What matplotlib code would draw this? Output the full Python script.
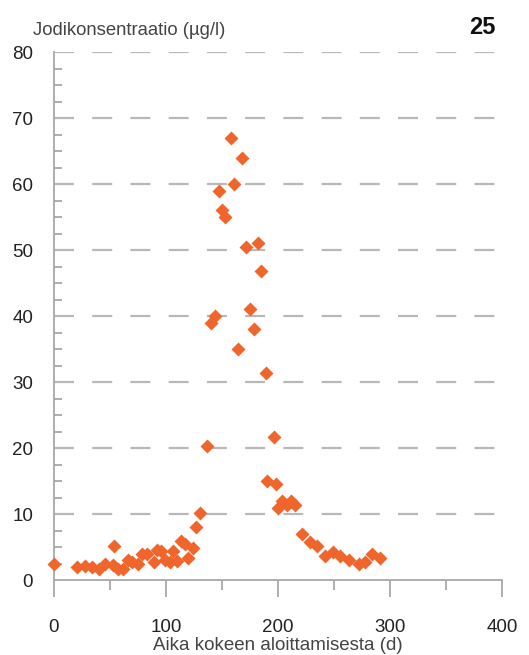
import matplotlib.pyplot as plt
from matplotlib.ticker import MultipleLocator

plt.rcParams['font.family'] = ['Liberation Sans', 'DejaVu Sans']

# days since start and measured iodine concentration
days = [0, 21, 28, 34, 40, 46, 53, 54, 57, 62, 66, 70, 75, 79, 83, 89, 92, 96,
        99, 104, 106, 110, 113, 117, 120, 124, 127, 130, 137, 140, 144, 147, 150,
        153, 158, 161, 164, 168, 171, 175, 179, 182, 185, 189, 190, 196, 198, 200,
        204, 208, 212, 215, 221, 229, 235, 242, 249, 255, 263, 272, 278, 284, 291]
conc = [2.4, 1.9, 2.1, 1.9, 1.6, 2.4, 2.2, 5.1, 1.7, 1.6, 3.1, 2.7, 2.4, 4.0,
        3.9, 2.8, 4.6, 4.4, 3.1, 2.7, 4.4, 2.9, 5.9, 5.5, 3.3, 4.8, 8.0, 10.1,
        20.3, 39.0, 40.0, 59.0, 56.0, 55.0, 67.0, 60.0, 35.0, 64.0, 50.5, 41.0,
        38.0, 51.0, 46.8, 31.3, 15.0, 21.7, 14.6, 10.9, 11.9, 11.3, 11.9, 11.3,
        6.9, 5.7, 5.1, 3.7, 4.2, 3.7, 3.1, 2.4, 2.8, 3.9, 3.4]

xticks = [0, 100, 200, 300, 400]
yticks = [0, 10, 20, 30, 40, 50, 60, 70, 80]

fig = plt.figure(figsize=(5.29, 6.55), dpi=100)
ax = fig.add_axes([0.102, 0.1145, 0.847, 0.806])

# dashed horizontal guides, stopping a little short of the right end
for y in yticks[1:]:
    ax.plot([0, 394], [y, y], color='#b8b8b8', lw=1.6, dashes=(9, 8.2), zorder=1)

ax.plot(days, conc, 'D', color='#f0652b', ms=7.3, mec='none', zorder=3, clip_on=False)

ax.set_xlim(0, 400)
ax.set_ylim(0, 80)
ax.set_xticks(xticks)
ax.set_yticks(yticks)
ax.xaxis.set_minor_locator(MultipleLocator(50))
ax.yaxis.set_minor_locator(MultipleLocator(2.5))

for s in ['top', 'right']:
    ax.spines[s].set_visible(False)
for s in ['left', 'bottom']:
    ax.spines[s].set_color('#a8a8a8')
    ax.spines[s].set_linewidth(1.3)

ax.tick_params(axis='x', which='major', direction='out', length=12, width=1.3,
               color='#a8a8a8', labelsize=13.5, labelcolor='#222222', pad=16)
ax.tick_params(axis='x', which='minor', direction='out', length=7, width=1.3,
               color='#a8a8a8')
ax.tick_params(axis='y', which='major', direction='in', length=0,
               labelsize=13.5, labelcolor='#222222', pad=15)
ax.tick_params(axis='y', which='minor', direction='in', length=6, width=1.3,
               color='#a8a8a8')

ax.set_xlabel('Aika kokeen aloittamisesta (d)', fontsize=13.5, color='#444444', labelpad=1)
fig.text(0.062, 0.953, 'Jodikonsentraatio (µg/l)', fontsize=13.3, color='#444444',
         ha='left', va='center')
fig.text(0.937, 0.958, '25', fontsize=17, fontweight='bold', color='#111111',
         ha='right', va='center')

plt.savefig('out.png', dpi=100)
